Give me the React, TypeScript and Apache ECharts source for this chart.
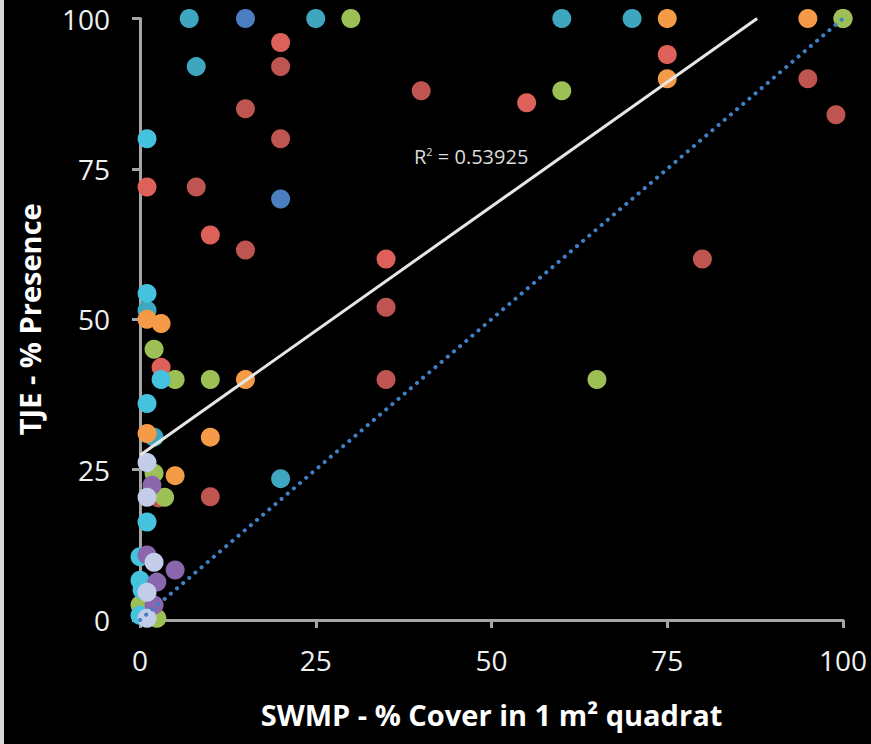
import React, { useEffect, useRef } from "react";
import * as echarts from "echarts";

const X_TICKS = [0, 25, 50, 75, 100];
const Y_TICKS = [0, 25, 50, 75, 100];

// [SWMP % cover, TJE % presence]
const tealPts: number[][] = [
  [7, 100], [25, 100], [60, 100], [70, 100], [8, 92], [1, 51.5], [2, 30.4], [20, 23.5],
];
const redDarkPts: number[][] = [
  [20, 92], [15, 85], [20, 80], [8, 72], [15, 61.5], [40, 88], [95, 90], [99, 84],
  [35, 52], [35, 40], [80, 60], [10, 20.5], [2.6, 20.3],
];
const redLightPts: number[][] = [
  [20, 96], [1, 72], [10, 64], [55, 86], [75, 94], [35, 60], [3, 42],
];
const bluePts: number[][] = [[15, 100], [20, 70]];
const orangePts: number[][] = [
  [75, 100], [95, 100], [100, 100], [75, 90], [1, 50], [3, 49.3], [15, 40], [10, 30.4],
  [1, 31], [5, 24],
];
const greenPts: number[][] = [
  [30, 100], [60, 88], [100, 100], [65, 40], [10, 40], [5, 40], [2, 45], [3.5, 20.4],
  [2, 24.4], [0, 2.5], [2.4, 0.3],
];
const cyanPts: number[][] = [
  [1, 80], [1, 54.3], [3, 40], [1, 36], [1, 16.3], [0, 10.5], [0, 6.6], [0.3, 5], [0, 0.8],
];
const purplePts: number[][] = [
  [1.7, 22.4], [1, 10.8], [5, 8.3], [2.4, 6.3], [2, 2.5],
];
const lavenderPts: number[][] = [
  [1, 26.2], [1, 20.4], [2, 9.6], [1, 4.6], [1, 0.3],
];

const TREND_INTERCEPT = 27.4;
const TREND_SLOPE = 0.827;
const R2_TEXT = "0.53925";
const ONE_TO_ONE: number[][] = [[0, 0], [100, 100]];

const X_NAME = "SWMP - % Cover in 1 m² quadrat";
const Y_NAME = "TJE - % Presence";

export default function App() {
  const ref = useRef<HTMLDivElement>(null);
  useEffect(() => {
    if (!ref.current) return;
    const chart = echarts.init(ref.current, undefined, { renderer: "svg" });
    const trendEndX = (100 - TREND_INTERCEPT) / TREND_SLOPE;
    const trend = [
      [0, TREND_INTERCEPT],
      [trendEndX, TREND_INTERCEPT + TREND_SLOPE * trendEndX],
    ];
    const font = "'Open Sans', Lato, sans-serif";
    const sc = (name: string, data: number[][], color: string) => ({
      type: "scatter",
      name,
      data,
      symbolSize: 19,
      itemStyle: { color, opacity: 1 },
      z: 3,
    });
    chart.setOption({
      animation: false,
      backgroundColor: "#000000",
      grid: { left: 140, right: 28, top: 17, bottom: 124 },
      xAxis: {
        type: "value",
        min: 0,
        max: 100,
        interval: 25,
        name: X_NAME,
        nameLocation: "middle",
        nameGap: 80,
        nameTextStyle: { color: "#ffffff", fontSize: 29, fontWeight: "bold", fontFamily: font },
        axisLine: { show: true, lineStyle: { color: "#a6a6a6", width: 3 } },
        axisTick: { show: true, inside: false, length: 8, lineStyle: { color: "#a6a6a6", width: 3 } },
        axisLabel: { color: "#f0f0f0", fontSize: 28, fontFamily: font, margin: 26,
          formatter: (v: number) => (X_TICKS.includes(v) ? String(v) : "") },
        splitLine: { show: false },
      },
      yAxis: {
        type: "value",
        min: 0,
        max: 100,
        interval: 25,
        name: Y_NAME,
        nameLocation: "middle",
        nameGap: 96,
        nameRotate: 90,
        nameTextStyle: { color: "#ffffff", fontSize: 29, fontWeight: "bold", fontFamily: font },
        axisLine: { show: true, lineStyle: { color: "#a6a6a6", width: 3 } },
        axisTick: { show: true, inside: false, length: 8, lineStyle: { color: "#a6a6a6", width: 3 } },
        axisLabel: { color: "#f0f0f0", fontSize: 28, lineHeight: 28, fontFamily: font, margin: 30,
          padding: [9, 0, 0, 0],
          formatter: (v: number) => (Y_TICKS.includes(v) ? String(v) : "") },
        splitLine: { show: false },
      },
      graphic: [
        { type: "rect", left: 0, top: 0, shape: { width: 4, height: 744 }, style: { fill: "#d8d8d8" } },
        {
          type: "text",
          left: 414,
          top: 146,
          style: {
            text: "{a|R}{s|2}{a| = " + R2_TEXT + "}",
            rich: {
              a: { fill: "#dcdcdc", fontSize: 20, fontFamily: font },
              s: { fill: "#dcdcdc", fontSize: 11, fontFamily: font, verticalAlign: "top", padding: [0, 0, 9, 0] },
            },
          },
          z: 10,
        },
      ],
      series: [
        sc("teal", tealPts, "#3fa6bf"),
        sc("redDark", redDarkPts, "#bf5550"),
        sc("redLight", redLightPts, "#de605a"),
        sc("blue", bluePts, "#4a7ec0"),
        sc("orange", orangePts, "#f59b47"),
        sc("green", greenPts, "#9cbf56"),
        sc("cyan", cyanPts, "#45c2de"),
        sc("purple", purplePts, "#8a66ad"),
        sc("lavender", lavenderPts, "#c3cdea"),
        {
          type: "line",
          data: trend,
          symbol: "none",
          lineStyle: { color: "#e6e6e6", width: 3 },
          z: 5,
        },
        {
          type: "line",
          data: ONE_TO_ONE,
          symbol: "none",
          lineStyle: { color: "#3f80c6", width: 4, type: [0.1, 8], cap: "round" },
          z: 5,
        },
      ],
    });
    return () => chart.dispose();
  }, []);
  return (
    <div
      ref={ref}
      style={{ position: "fixed", left: 0, top: 0, width: 871, height: 744 }}
    />
  );
}
